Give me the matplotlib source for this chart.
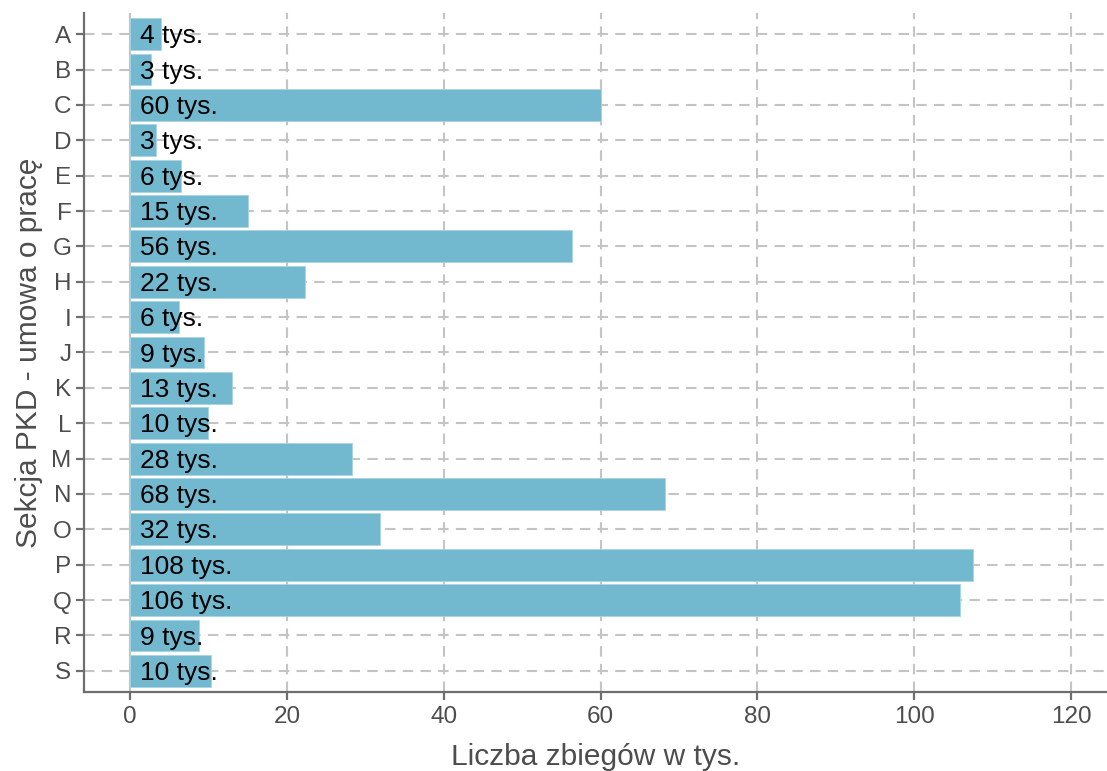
import matplotlib
matplotlib.use("Agg")
import matplotlib.pyplot as plt

plt.rcParams["font.family"] = ["Liberation Sans", "DejaVu Sans"]

# ── Data ──────────────────────────────────────────────────────────────────────
sections = ["A", "B", "C", "D", "E", "F", "G", "H", "I", "J",
            "K", "L", "M", "N", "O", "P", "Q", "R", "S"]
values = [3.95, 2.7, 60.1, 3.3, 6.5, 15.0, 56.4, 22.3, 6.2, 9.4,
          13.0, 9.9, 28.3, 68.2, 31.9, 107.5, 105.8, 8.8, 10.3]
labels = ["4 tys.", "3 tys.", "60 tys.", "3 tys.", "6 tys.", "15 tys.", "56 tys.",
          "22 tys.", "6 tys.", "9 tys.", "13 tys.", "10 tys.", "28 tys.", "68 tys.",
          "32 tys.", "108 tys.", "106 tys.", "9 tys.", "10 tys."]
xticks = [0, 20, 40, 60, 80, 100, 120]

BAR   = "#72B9D0"
AXCOL = "#6E6E6E"
GRID  = "#C4C4C4"
TXT   = "#4D4D4D"

fig = plt.figure(figsize=(11.07, 7.71), dpi=100)
ax = fig.add_axes([84 / 1107, 79 / 771, 1 - 84 / 1107, (692 - 13) / 771])

ypos = list(range(len(sections)))

# grid (dashed) behind bars
for x in xticks:
    ax.axvline(x, color=GRID, lw=1.5, ls=(0, (5, 3.5)), zorder=0)
for y in ypos:
    ax.axhline(y, color=GRID, lw=1.5, ls=(0, (5, 3.5)), zorder=0)
ax.axvline(0, color=GRID, lw=1.5, zorder=0.5)

ax.barh(ypos, values, height=0.9, color=BAR, edgecolor="#A9D4E2", lw=0.6, zorder=2)

for y, lab in zip(ypos, labels):
    ax.annotate(lab, (0, y), xytext=(7, -1.5), textcoords="offset points",
                ha="left", va="center", fontsize=19, color="black", zorder=3)

ax.set_xlim(-5.9, 124.6)
ax.set_ylim(len(sections) - 0.4, -0.6)
ax.set_xticks(xticks)
ax.set_yticks(ypos)
ax.set_yticklabels(sections)

for side in ["top", "right"]:
    ax.spines[side].set_visible(False)
for side in ["left", "bottom"]:
    ax.spines[side].set_color(AXCOL)
    ax.spines[side].set_linewidth(1.6)

ax.tick_params(axis="both", colors=AXCOL, labelcolor=TXT, labelsize=17.5,
               length=6, width=1.6, direction="out")
ax.tick_params(axis="y", pad=3)
ax.tick_params(axis="x", pad=4)

ax.set_xlabel("Liczba zbiegów w tys.", fontsize=21.5, color=TXT, labelpad=11)
ax.set_ylabel("Sekcja PKD - umowa o pracę", fontsize=21.5, color=TXT, labelpad=6)

fig.savefig("out.png", dpi=100)
